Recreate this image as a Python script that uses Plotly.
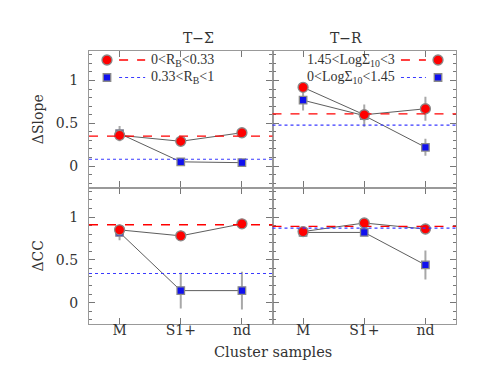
import plotly.graph_objects as go

# categories on the x axis
samples = ["M", "S1+", "nd"]
xpos = [1, 2, 3]

# T-Sigma panel, Delta slope
ts_slope_red = [0.36, 0.29, 0.39]
ts_slope_red_err = [0.06, 0.04, 0.03]
ts_slope_blue = [0.38, 0.05, 0.04]
ts_slope_blue_err = [0.09, 0.04, 0.04]
ts_slope_ref = [0.35, 0.08]  # red dashed, blue dotted

# T-R panel, Delta slope
tr_slope_red = [0.92, 0.60, 0.67]
tr_slope_red_err = [0.04, 0.06, 0.14]
tr_slope_blue = [0.77, 0.59, 0.22]
tr_slope_blue_err = [0.12, 0.13, 0.10]
tr_slope_ref = [0.61, 0.48]

# T-Sigma panel, Delta CC
ts_cc_red = [0.85, 0.78, 0.92]
ts_cc_red_err = [0.04, 0.06, 0.03]
ts_cc_blue = [0.82, 0.14, 0.14]
ts_cc_blue_err = [0.09, 0.21, 0.22]
ts_cc_ref = [0.91, 0.34]

# T-R panel, Delta CC
tr_cc_red = [0.83, 0.93, 0.86]
tr_cc_red_err = [0.04, 0.03, 0.06]
tr_cc_blue = [0.82, 0.82, 0.44]
tr_cc_blue_err = [0.04, 0.04, 0.17]
tr_cc_ref = [0.89, 0.87]

panel_titles = ["T\u2212\u03a3", "T\u2212R"]
legend_left = ["0&lt;R<sub>B</sub>&lt;0.33", "0.33&lt;R<sub>B</sub>&lt;1"]
legend_right = ["1.45&lt;Log\u03a3<sub>10</sub>&lt;3", "0&lt;Log\u03a3<sub>10</sub>&lt;1.45"]

RED = "#ff0000"
BLUE = "#3a3aff"
FONT = "DejaVu Serif"
LEGFONT = "Liberation Serif"
TXT = "#333333"
red_marker = dict(symbol="circle", size=10, color=RED, line=dict(color="#8a8a8a", width=1.3))
blue_marker = dict(symbol="square", size=7.5, color="#1010ee", line=dict(color="#8a8a8a", width=1.3))

fig = go.Figure()

panels = [
    ("x", "y", ts_slope_red, ts_slope_red_err, ts_slope_blue, ts_slope_blue_err, ts_slope_ref),
    ("x2", "y2", tr_slope_red, tr_slope_red_err, tr_slope_blue, tr_slope_blue_err, tr_slope_ref),
    ("x3", "y3", ts_cc_red, ts_cc_red_err, ts_cc_blue, ts_cc_blue_err, ts_cc_ref),
    ("x4", "y4", tr_cc_red, tr_cc_red_err, tr_cc_blue, tr_cc_blue_err, tr_cc_ref),
]

for xa, ya, red, rerr, blue, berr, ref in panels:
    # reference levels
    fig.add_shape(type="line", xref=xa + " domain", yref=ya, x0=0, x1=1, y0=ref[0], y1=ref[0],
                  line=dict(color=RED, width=1.3, dash="dash"))
    fig.add_shape(type="line", xref=xa + " domain", yref=ya, x0=0, x1=1, y0=ref[1], y1=ref[1],
                  line=dict(color=BLUE, width=1.2, dash="dot"))
    fig.add_trace(go.Scatter(x=xpos, y=blue, xaxis=xa, yaxis=ya, mode="lines+markers",
                             line=dict(color="#333333", width=0.8),
                             error_y=dict(type="data", array=berr, color="#a8a8a8", thickness=2, width=0),
                             marker=blue_marker, showlegend=False))
    fig.add_trace(go.Scatter(x=xpos, y=red, xaxis=xa, yaxis=ya, mode="lines+markers",
                             line=dict(color="#333333", width=0.8),
                             error_y=dict(type="data", array=rerr, color="#a8a8a8", thickness=2, width=0),
                             marker=red_marker, showlegend=False))

axis_common = dict(showline=True, mirror="allticks", linecolor="#999999", linewidth=1.2,
                   ticks="inside", tickcolor="#777777", ticklen=6, zeroline=False,
                   showgrid=False, tickfont=dict(family=FONT, size=14, color=TXT))
xcommon = dict(axis_common, range=[0.5, 3.5], tickvals=xpos, ticktext=samples, ticklabelstandoff=-7)
ycommon = dict(axis_common, range=[-0.25, 1.345], tickvals=[0, 0.5, 1],
               ticktext=["0\u2002", "0.5\u2002", "1\u2002"],
               minor=dict(ticks="inside", ticklen=3, dtick=0.1, tickcolor="#777777"))

fig.update_layout(
    width=496, height=383,
    margin=dict(l=81, r=48, t=43, b=67),
    paper_bgcolor="white", plot_bgcolor="rgba(0,0,0,0)",
    font=dict(family=FONT, size=14, color=TXT),
    xaxis=dict(xcommon, domain=[0, 0.5], anchor="y", showticklabels=False),
    xaxis2=dict(xcommon, domain=[0.5, 1], anchor="y2", showticklabels=False),
    xaxis3=dict(xcommon, domain=[0, 0.5], anchor="y3"),
    xaxis4=dict(xcommon, domain=[0.5, 1], anchor="y4"),
    yaxis=dict(ycommon, domain=[0.5, 1], anchor="x",
               title=dict(text="\u0394Slope", font=dict(family=FONT, size=14, color=TXT), standoff=8)),
    yaxis2=dict(ycommon, domain=[0.5, 1], anchor="x2", showticklabels=False),
    yaxis3=dict(ycommon, domain=[0, 0.5], anchor="x3",
                title=dict(text="\u0394CC", font=dict(family=FONT, size=14, color=TXT), standoff=8)),
    yaxis4=dict(ycommon, domain=[0, 0.5], anchor="x4", showticklabels=False),
    xaxis5=dict(domain=[0, 1], range=[0, 1], visible=False, anchor="y5"),
    yaxis5=dict(domain=[0, 1], range=[0, 1], visible=False, anchor="x5"),
)

# panel titles
for i, t in enumerate(panel_titles):
    fig.add_annotation(text=t, xref="paper", yref="paper", x=0.25 + 0.5 * i, y=1.0,
                       yanchor="bottom", yshift=3, showarrow=False,
                       font=dict(family=FONT, size=14, color=TXT))

fig.add_annotation(text="Cluster samples", xref="paper", yref="paper", x=0.5, y=0,
                   yanchor="top", yshift=-18, showarrow=False,
                   font=dict(family=FONT, size=14.5, color=TXT))

# legends
leg_y = [0.967, 0.903]
for k, txt in enumerate(legend_left):
    fig.add_annotation(text=txt, xref="paper", yref="paper", x=0.163, y=leg_y[k],
                       xanchor="left", yanchor="middle", showarrow=False,
                       font=dict(family=LEGFONT, size=14, color=TXT))
for k, txt in enumerate(legend_right):
    fig.add_annotation(text=txt, xref="paper", yref="paper", x=0.84, y=leg_y[k],
                       xanchor="right", yanchor="middle", showarrow=False,
                       font=dict(family=LEGFONT, size=14, color=TXT))
for x0, x1 in [(0.082, 0.153), (0.850, 0.918)]:
    fig.add_shape(type="line", xref="paper", yref="paper", x0=x0, x1=x1, y0=leg_y[0], y1=leg_y[0],
                  line=dict(color=RED, width=1.3, dash="dash"))
    fig.add_shape(type="line", xref="paper", yref="paper", x0=x0, x1=x1, y0=leg_y[1], y1=leg_y[1],
                  line=dict(color=BLUE, width=1.2, dash="dot"))
fig.add_trace(go.Scatter(x=[0.049, 0.951], y=[leg_y[0]] * 2, xaxis="x5", yaxis="y5", mode="markers",
                         marker=red_marker, showlegend=False, hoverinfo="skip"))
fig.add_trace(go.Scatter(x=[0.049, 0.951], y=[leg_y[1]] * 2, xaxis="x5", yaxis="y5", mode="markers",
                         marker=blue_marker, showlegend=False, hoverinfo="skip"))

fig.write_html("out.html")
